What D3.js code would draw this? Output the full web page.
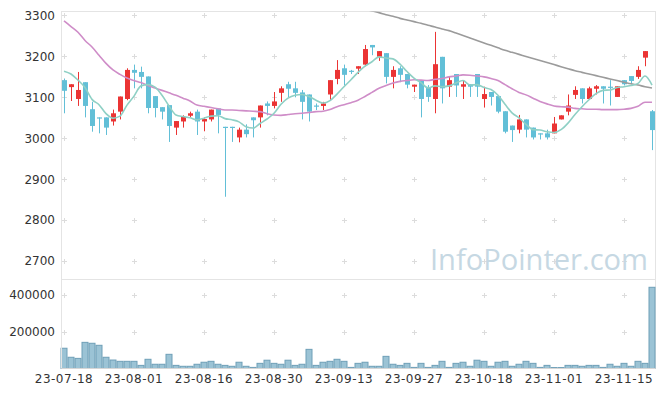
<!DOCTYPE html>
<html><head><meta charset="utf-8">
<script src="https://cdn.jsdelivr.net/npm/d3@7/dist/d3.min.js"></script>
<style>
body{margin:0;background:#fff}
svg{display:block}
text{font-family:"DejaVu Sans",sans-serif}
</style>
</head><body>
<svg id="chart" width="665" height="397"></svg>
<script>
const dates = ["23-07-18","23-07-19","23-07-20","23-07-21","23-07-24","23-07-25","23-07-26","23-07-27","23-07-28","23-07-31",
"23-08-01","23-08-02","23-08-03","23-08-04","23-08-07","23-08-08","23-08-09","23-08-10","23-08-11","23-08-14",
"23-08-16","23-08-17","23-08-18","23-08-21","23-08-22","23-08-23","23-08-24","23-08-25","23-08-28","23-08-29",
"23-08-30","23-08-31","23-09-01","23-09-04","23-09-05","23-09-06","23-09-07","23-09-08","23-09-11","23-09-12",
"23-09-13","23-09-14","23-09-15","23-09-18","23-09-19","23-09-20","23-09-21","23-09-22","23-09-25","23-09-26",
"23-09-27","23-10-04","23-10-05","23-10-06","23-10-10","23-10-11","23-10-12","23-10-13","23-10-16","23-10-17",
"23-10-18","23-10-19","23-10-20","23-10-23","23-10-24","23-10-25","23-10-26","23-10-27","23-10-30","23-10-31",
"23-11-01","23-11-02","23-11-03","23-11-06","23-11-07","23-11-08","23-11-09","23-11-10","23-11-13","23-11-14",
"23-11-15","23-11-16","23-11-17","23-11-20","23-11-21"];

const openP = [3141,3124,3095,3136,3070,3050,3050,3040,3064,3095,
3166,3161,3150,3102,3075,3080,3025,3040,3054,3064,
3040,3045,3072,3027,3027,3001,3020,3050,3050,3084,
3078,3110,3131,3121,3111,3106,3079,3078,3106,3144,
3170,3164,3169,3179,3227,3198,3207,3149,3170,3156,
3125,3141,3123,3095,3198,3125,3156,3125,3131,3156,
3095,3112,3102,3065,3030,3020,3045,3025,3011,3011,
3011,3045,3064,3105,3121,3095,3120,3126,3125,3100,
3141,3151,3149,3196,3065];
const highP = [3145,3131,3161,3136,3088,3050,3050,3069,3101,3170,
3179,3174,3150,3102,3075,3080,3041,3055,3064,3069,
3050,3069,3072,3027,3027,3025,3033,3050,3079,3089,
3112,3126,3137,3137,3117,3106,3084,3088,3141,3190,
3179,3166,3175,3227,3227,3212,3207,3175,3175,3156,
3130,3141,3129,3259,3198,3151,3156,3141,3131,3156,
3125,3112,3102,3065,3030,3056,3045,3025,3011,3020,
3051,3055,3106,3126,3121,3125,3129,3126,3141,3126,
3141,3151,3175,3212,3068];
const lowP = [3060,3090,3078,3050,3015,3011,3007,3030,3045,3092,
3121,3121,3060,3050,3045,2990,3007,3025,3050,3007,
3016,3040,3011,2856,2990,2989,3001,3001,3025,3055,
3072,3088,3099,3099,3045,3040,3068,3068,3090,3131,
3128,3156,3156,3175,3202,3188,3133,3121,3136,3121,
3112,3050,3088,3060,3084,3100,3100,3095,3100,3100,
3074,3079,3060,3011,2990,3011,3001,2996,2996,2996,
3011,3045,3055,3095,3084,3095,3106,3084,3079,3100,
3128,3131,3144,3175,2970];
const closeP = [3115,3131,3117,3078,3029,3048,3025,3060,3101,3166,
3159,3149,3073,3073,3064,3029,3041,3051,3060,3040,
3046,3069,3056,3025,3025,3020,3009,3043,3079,3078,
3089,3121,3120,3110,3088,3064,3078,3084,3141,3166,
3154,3163,3175,3217,3221,3212,3149,3166,3154,3130,
3130,3095,3100,3180,3121,3141,3128,3131,3125,3125,
3107,3100,3064,3015,3019,3045,3020,3001,3010,3001,
3035,3055,3079,3117,3095,3121,3126,3120,3124,3126,
3131,3139,3166,3212,3019];

const volume = [110000,61000,55000,142000,137000,126000,61000,46000,39000,39000,
39000,17000,50000,23000,23000,77000,17000,12000,12000,23000,
34000,39000,23000,17000,12000,34000,12000,6000,28000,45000,
28000,23000,45000,17000,23000,104000,17000,34000,39000,50000,
39000,6000,28000,34000,12000,12000,66000,23000,17000,28000,
6000,28000,6000,17000,39000,6000,28000,34000,12000,45000,
39000,12000,34000,39000,12000,23000,39000,28000,6000,17000,
5000,5000,17000,17000,12000,17000,17000,6000,23000,12000,
28000,12000,39000,28000,441000];

const ma5 = [3163,3156,3141,3123,3094,3081,3059,3048,3053,3080,
3102,3127,3130,3124,3104,3078,3056,3052,3049,3044,
3048,3053,3054,3047,3044,3039,3027,3024,3035,3046,
3060,3082,3097,3104,3106,3101,3092,3085,3091,3107,
3125,3142,3160,3175,3186,3198,3195,3193,3180,3162,
3146,3135,3122,3127,3125,3127,3134,3140,3129,3130,
3123,3118,3104,3082,3061,3049,3033,3020,3019,3015,
3013,3020,3036,3057,3076,3093,3108,3116,3117,3123,
3125,3128,3133,3151,3129];

const ma20 = [3286,3272,3258,3238,3222,3202,3182,3166,3155,3146,
3140,3135,3128,3122,3116,3110,3104,3097,3090,3080,
3077,3074,3071,3068,3068,3067,3066,3065,3064,3059,
3056,3055,3057,3059,3060,3062,3064,3065,3069,3076,
3081,3086,3092,3101,3111,3121,3128,3134,3138,3140,
3142,3141,3140,3143,3145,3149,3151,3154,3153,3151,
3149,3145,3140,3130,3120,3111,3105,3097,3089,3083,
3078,3076,3075,3072,3071,3070,3070,3069,3069,3069,
3070,3072,3077,3087,3087];

const ma60 = [null,null,null,null,null,null,null,null,null,null,
null,null,null,null,null,null,null,null,null,null,
null,null,null,null,null,null,null,null,null,null,
null,null,null,null,null,null,null,null,3337,3332,
3328,3324,3319,3315,3310,3306,3301,3297,3292,3288,
3284,3280,3275,3271,3266,3262,3256,3250,3244,3238,
3232,3226,3220,3214,3209,3204,3199,3194,3189,3184,
3179,3174,3169,3164,3160,3156,3152,3148,3144,3140,
3136,3132,3129,3125,3122];

const priceTicks = [2700,2800,2900,3000,3100,3200,3300];
const volumeTicks = [200000,400000];
const dateTicks = ["23-07-18","23-08-01","23-08-16","23-08-30","23-09-13","23-09-27","23-10-18","23-11-01","23-11-15"];

const svg = d3.select("#chart");
const L = 61.5, R = 655.5, T = 11.5, MID = 279.5, B = 368.5;

const x = d3.scaleBand().domain(dates).range([60.5, 655.5]).paddingInner(0).paddingOuter(0);
const cx = d => x(d) + x.bandwidth() / 2;
const yP = d3.scaleLinear().domain([2655, 3310]).range([279, 11]);
const yV = d3.scaleLinear().domain([0, 486000]).range([368.5, 279]);

const red = "#eb3434", blue = "#62bfd7";
const gridC = "#dcdcdc", frameC = "#e4e4e4";

// frame
svg.append("rect").attr("x", L).attr("y", T).attr("width", R - L).attr("height", B - T)
  .attr("fill", "#fff").attr("stroke", frameC);
svg.append("line").attr("x1", L).attr("x2", R).attr("y1", MID).attr("y2", MID).attr("stroke", frameC);

// grid crosses
const crossG = svg.append("g");
const crossRows = priceTicks.map(v => yP(v)).concat(volumeTicks.map(v => yV(v)));
dateTicks.forEach(d => {
  crossRows.forEach(yy => {
    const xx = Math.round(cx(d)) + 0.5, y0 = Math.round(yy) + 0.5;
    crossG.append("line").attr("x1", xx - 2.5).attr("x2", xx + 2.5).attr("y1", y0).attr("y2", y0).attr("stroke", gridC);
    crossG.append("line").attr("x1", xx).attr("x2", xx).attr("y1", y0 - 2.5).attr("y2", y0 + 2.5).attr("stroke", gridC);
  });
});

// watermark
svg.append("text").attr("x", 430).attr("y", 270)
  .attr("font-size", 29.5).attr("fill", "#c6d8e3").attr("textLength", 218).attr("lengthAdjust", "spacingAndGlyphs")
  .style("font-family", "'Open Sans',sans-serif").text("InfoPointer.com");

// clip for price panel
svg.append("clipPath").attr("id", "pclip").append("rect")
  .attr("x", L).attr("y", T).attr("width", R - L).attr("height", MID - T);

const pg = svg.append("g").attr("clip-path", "url(#pclip)");

const candles = dates.map((d, i) => ({d, o: openP[i], h: highP[i], l: lowP[i], c: closeP[i]}));
const cg = pg.append("g");
cg.selectAll("line.wick").data(candles).join("line").attr("class", "wick")
  .attr("x1", d => Math.round(cx(d.d)) + 0.5).attr("x2", d => Math.round(cx(d.d)) + 0.5)
  .attr("y1", d => yP(d.h)).attr("y2", d => yP(d.l))
  .attr("stroke", d => d.c >= d.o ? red : blue).attr("stroke-width", 1);
cg.selectAll("rect.body").data(candles).join("rect").attr("class", "body")
  .attr("x", d => Math.round(cx(d.d)) - 2)
  .attr("width", 5)
  .attr("y", d => yP(Math.max(d.o, d.c)))
  .attr("height", d => Math.max(1.2, Math.abs(yP(d.o) - yP(d.c))))
  .attr("fill", d => d.c >= d.o ? red : blue);

function drawLine(vals, color) {
  const line = d3.line().defined(v => v != null).x((v, i) => cx(dates[i])).y(v => yP(v)).curve(d3.curveMonotoneX);
  pg.append("path").datum(vals).attr("d", line).attr("fill", "none").attr("stroke", color).attr("stroke-width", 1.6);
}
drawLine(ma60, "#9b9b9b");
drawLine(ma20, "#cf8dc8");
drawLine(ma5, "#8fd0c5");

// volume
svg.append("g").selectAll("rect").data(volume).join("rect")
  .attr("x", (v, i) => x(dates[i]) + 0.5).attr("width", x.bandwidth() - 1)
  .attr("y", v => yV(v)).attr("height", v => yV(0) - yV(v))
  .attr("fill", "#9bc3d5").attr("stroke", "#6e9fb7").attr("stroke-width", 1);

// axes
const yAxisP = d3.axisLeft(yP).tickValues(priceTicks).tickSize(0).tickPadding(6.5).tickFormat(d3.format("d"));
const gyp = svg.append("g").attr("transform", `translate(${L},0)`).call(yAxisP);
const yAxisV = d3.axisLeft(yV).tickValues(volumeTicks).tickSize(0).tickPadding(6.5).tickFormat(d3.format("d"));
const gyv = svg.append("g").attr("transform", `translate(${L},0)`).call(yAxisV);
const xAxis = d3.axisBottom(x).tickValues(dateTicks).tickSize(0).tickPadding(6);
const gx = svg.append("g").attr("transform", `translate(0,${B})`).call(xAxis);
[gyp, gyv, gx].forEach(g => {
  g.select(".domain").remove();
  g.selectAll("text").attr("fill", "#333").style("font-size", "12px").style("font-family", "'DejaVu Sans',sans-serif");
});
gx.selectAll("text").style("letter-spacing", "0.5px");
gyp.selectAll("text").attr("dy", "0.36em");

// left axis line and bottom line on top
svg.append("line").attr("x1", L).attr("x2", L).attr("y1", T).attr("y2", B).attr("stroke", frameC);
svg.append("line").attr("x1", L).attr("x2", R).attr("y1", B).attr("y2", B).attr("stroke", "#d6d6d6");
</script>
</body></html>
